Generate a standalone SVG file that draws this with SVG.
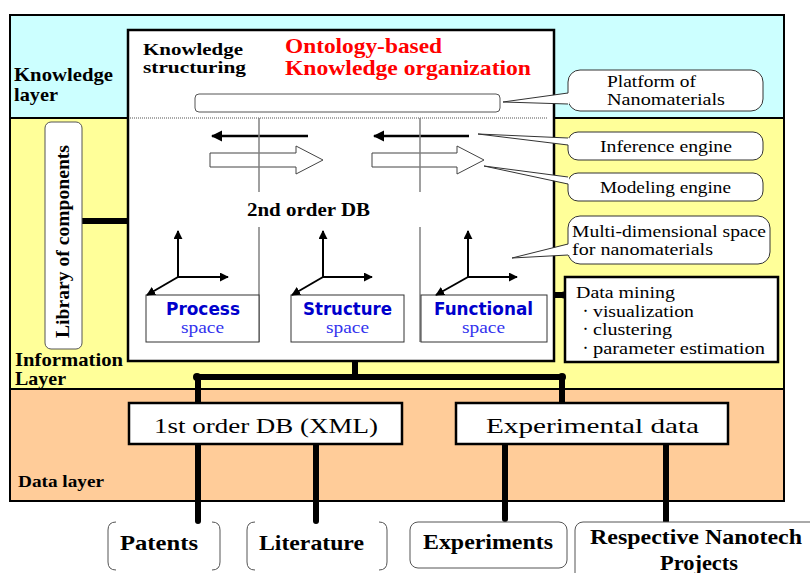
<svg xmlns="http://www.w3.org/2000/svg" width="810" height="573" viewBox="0 0 810 573" font-family="'Liberation Serif', serif">
<style>
text{font-family:"Liberation Serif","Times New Roman",serif;fill:#000}
.b{font-weight:bold}
.lbl{font-size:19px;font-weight:bold}
.lbl2{font-size:16.5px;font-weight:bold}
.call{font-size:16.5px}
.bub{fill:#fff;stroke:#333;stroke-width:1}
.ptr{fill:none;stroke:#333;stroke-width:1}
.ax{stroke:#000;stroke-width:2;fill:none;marker-end:url(#ah)}
.vl{stroke:#808080;stroke-width:1.5}
.sp1{font-family:"DejaVu Sans","Liberation Sans",sans-serif;font-weight:bold;font-size:17px;fill:#0000CC}
.sp2{font-size:17px;fill:#3333EE}
.conn{stroke:#000;stroke-width:6;stroke-linecap:round;fill:none}
.big{font-size:22px}
.bot{font-size:21px;font-weight:bold}
.bul{font-family:"Noto Sans CJK JP",sans-serif;font-size:11px}
</style>
<defs>
<marker id="ah" viewBox="0 0 10 10" refX="9" refY="5" markerWidth="4.5" markerHeight="4.5" orient="auto"><path d="M0,0 L10,5 L0,10 z" fill="#000"/></marker>
</defs>

<g id="layers">
<rect x="10" y="15" width="774" height="103" fill="#CCFFFF"/>
<rect x="10" y="118" width="774" height="271" fill="#FFFF99"/>
<rect x="10" y="389" width="774" height="112" fill="#FFCC99"/>
<line x1="10" y1="118" x2="784" y2="118" stroke="#000" stroke-width="2"/>
<line x1="10" y1="389" x2="784" y2="389" stroke="#000" stroke-width="2"/>
<rect x="10" y="15" width="774" height="486" fill="none" stroke="#000" stroke-width="2"/>
<text class="lbl" x="14" y="81" textLength="99" lengthAdjust="spacingAndGlyphs">Knowledge</text>
<text class="lbl" x="14" y="101" textLength="44" lengthAdjust="spacingAndGlyphs">layer</text>
<text class="lbl" x="15" y="366" textLength="108" lengthAdjust="spacingAndGlyphs">Information</text>
<text class="lbl" x="15" y="385" textLength="51" lengthAdjust="spacingAndGlyphs">Layer</text>
<text class="b" x="18" y="487" font-size="16" textLength="86" lengthAdjust="spacingAndGlyphs">Data layer</text>
</g>

<g id="connectors">
<line class="conn" x1="80" y1="221" x2="128" y2="221" stroke-width="5"/>
<circle cx="80" cy="221" r="3.5"/>
<line class="conn" x1="554" y1="295" x2="564" y2="295" stroke-width="6"/>
<circle cx="564" cy="295" r="3.5"/>
<line class="conn" x1="197" y1="377" x2="562" y2="377" stroke-linecap="butt"/>
<line class="conn" x1="355" y1="361" x2="355" y2="377" stroke-width="5" stroke-linecap="butt"/>
<line class="conn" x1="198" y1="377" x2="198" y2="403" stroke-width="5" stroke-linecap="butt"/>
<line class="conn" x1="562" y1="377" x2="562" y2="403" stroke-width="5" stroke-linecap="butt"/>
<circle cx="197" cy="377" r="4"/>
<circle cx="562" cy="377" r="4"/>
<line class="conn" x1="198" y1="444" x2="198" y2="521"/>
<line class="conn" x1="316" y1="444" x2="316" y2="521"/>
<line class="conn" x1="505" y1="444" x2="505" y2="519"/>
<line class="conn" x1="666" y1="444" x2="666" y2="521"/>
</g>

<g id="knowledge-box">
<rect x="128" y="30" width="426" height="331" fill="#fff" stroke="#000" stroke-width="2.5"/>
<line x1="130" y1="118" x2="548" y2="118" stroke="#555" stroke-width="1.2" stroke-dasharray="1 1"/>
<text class="lbl2" x="143" y="55" textLength="100" lengthAdjust="spacingAndGlyphs">Knowledge</text>
<text class="lbl2" x="143" y="73" textLength="103" lengthAdjust="spacingAndGlyphs">structuring</text>
<text class="b" x="285" y="53" font-size="21" style="fill:#FF0000" textLength="157" lengthAdjust="spacingAndGlyphs">Ontology-based</text>
<text class="b" x="285" y="75" font-size="21" style="fill:#FF0000" textLength="246" lengthAdjust="spacingAndGlyphs">Knowledge organization</text>
<rect x="195" y="94" width="305" height="18" rx="4" fill="#fff" stroke="#555" stroke-width="1"/>
</g>

<g id="engines">
<line x1="308" y1="136" x2="212" y2="136" stroke="#000" stroke-width="2.5" marker-end="url(#ah)"/>
<line x1="469" y1="136" x2="374" y2="136" stroke="#000" stroke-width="2.5" marker-end="url(#ah)"/>
<path d="M210,153 H296 V146 L323,160 L296,174 V167 H210 Z" fill="#fff" stroke="#444" stroke-width="1"/>
<path d="M372,153 H457 V146 L484,160 L457,174 V167 H372 Z" fill="#fff" stroke="#444" stroke-width="1"/>
<line class="vl" x1="259" y1="118" x2="259" y2="192"/>
<line class="vl" x1="259" y1="227" x2="259" y2="342"/>
<line class="vl" x1="420" y1="118" x2="420" y2="192"/>
<line class="vl" x1="420" y1="227" x2="420" y2="342"/>
<text class="b" x="247" y="216" font-size="18" textLength="123" lengthAdjust="spacingAndGlyphs">2nd order DB</text>
</g>

<g id="process-space">
<rect x="146" y="295" width="113" height="47" fill="#fff" stroke="#333" stroke-width="1"/>
<line class="ax" x1="178" y1="277" x2="178" y2="231"/>
<line class="ax" x1="178" y1="277" x2="228" y2="277"/>
<line class="ax" x1="178" y1="277" x2="147" y2="295"/>
<text class="sp1" x="166" y="315" textLength="74" lengthAdjust="spacingAndGlyphs">Process</text>
<text class="sp2" x="181" y="333" textLength="43" lengthAdjust="spacingAndGlyphs">space</text>
</g>
<g id="structure-space">
<rect x="291" y="295" width="113" height="47" fill="#fff" stroke="#333" stroke-width="1"/>
<line class="ax" x1="323" y1="277" x2="323" y2="231"/>
<line class="ax" x1="323" y1="277" x2="372" y2="277"/>
<line class="ax" x1="323" y1="277" x2="292" y2="295"/>
<text class="sp1" x="303" y="315" textLength="89" lengthAdjust="spacingAndGlyphs">Structure</text>
<text class="sp2" x="326" y="333" textLength="43" lengthAdjust="spacingAndGlyphs">space</text>
</g>
<g id="functional-space">
<rect x="421" y="295" width="126" height="47" fill="#fff" stroke="#333" stroke-width="1"/>
<line class="ax" x1="468" y1="277" x2="468" y2="231"/>
<line class="ax" x1="468" y1="277" x2="517" y2="277"/>
<line class="ax" x1="468" y1="277" x2="436" y2="295"/>
<text class="sp1" x="434" y="315" textLength="99" lengthAdjust="spacingAndGlyphs">Functional</text>
<text class="sp2" x="462" y="333" textLength="43" lengthAdjust="spacingAndGlyphs">space</text>
</g>

<g id="library">
<rect x="45" y="122" width="37" height="227" rx="6" fill="#fff" stroke="#555" stroke-width="1"/>
<text class="lbl" transform="translate(69,338) rotate(-90)" textLength="193" lengthAdjust="spacingAndGlyphs">Library of components</text>
</g>

<g id="callout-platform">
<rect class="bub" x="568" y="70" width="195" height="41" rx="12"/>
<polygon points="569,93 503,102 569,104" fill="#fff"/>
<polyline class="ptr" points="568,93 503,102 568,104"/>
<text class="call" x="607" y="87" textLength="89" lengthAdjust="spacingAndGlyphs">Platform of</text>
<text class="call" x="607" y="105" textLength="118" lengthAdjust="spacingAndGlyphs">Nanomaterials</text>
</g>
<g id="callout-inference">
<rect class="bub" x="568" y="132" width="195" height="28" rx="10"/>
<polygon points="569,138 478,134 569,145" fill="#fff"/>
<polyline class="ptr" points="568,138 478,134 568,145"/>
<text class="call" x="600" y="152" textLength="132" lengthAdjust="spacingAndGlyphs">Inference engine</text>
</g>
<g id="callout-modeling">
<rect class="bub" x="568" y="173" width="195" height="28" rx="10"/>
<polygon points="569,177 484,166 569,184" fill="#fff"/>
<polyline class="ptr" points="568,177 484,166 568,184"/>
<text class="call" x="600" y="193" textLength="131" lengthAdjust="spacingAndGlyphs">Modeling engine</text>
</g>
<g id="callout-multi">
<rect class="bub" x="568" y="216" width="202" height="48" rx="12"/>
<polygon points="569,244 512,258 569,255" fill="#fff"/>
<polyline class="ptr" points="568,244 512,258 568,255"/>
<text class="call" x="572" y="237" textLength="194" lengthAdjust="spacingAndGlyphs">Multi-dimensional space</text>
<text class="call" x="572" y="255" textLength="141" lengthAdjust="spacingAndGlyphs">for nanomaterials</text>
</g>

<g id="data-mining">
<rect x="565" y="277" width="213" height="85" fill="#fff" stroke="#000" stroke-width="2.5"/>
<text class="call" x="576" y="298" textLength="99" lengthAdjust="spacingAndGlyphs">Data mining</text>
<text class="bul" x="580" y="315">・</text>
<text class="call" x="593" y="317" textLength="101" lengthAdjust="spacingAndGlyphs">visualization</text>
<text class="bul" x="580" y="333">・</text>
<text class="call" x="593" y="335" textLength="79" lengthAdjust="spacingAndGlyphs">clustering</text>
<text class="bul" x="580" y="352">・</text>
<text class="call" x="593" y="354" textLength="172" lengthAdjust="spacingAndGlyphs">parameter estimation</text>
</g>

<g id="first-order-db">
<rect x="129" y="403" width="273" height="41" fill="#fff" stroke="#000" stroke-width="2.5"/>
<text class="big" x="154" y="433" textLength="224" lengthAdjust="spacingAndGlyphs">1st order DB (XML)</text>
</g>
<g id="experimental-data">
<rect x="456" y="403" width="272" height="41" fill="#fff" stroke="#000" stroke-width="2.5"/>
<text class="big" x="486" y="433" textLength="213" lengthAdjust="spacingAndGlyphs">Experimental data</text>
</g>

<g id="patents">
<path d="M116,522 Q108,522 108,530 V562 Q108,570 116,570" fill="none" stroke="#555" stroke-width="1"/>
<path d="M212,522 Q220,522 220,530 V562 Q220,570 212,570" fill="none" stroke="#555" stroke-width="1"/>
<text class="bot" x="120" y="550" textLength="78" lengthAdjust="spacingAndGlyphs">Patents</text>
</g>
<g id="literature">
<path d="M255,522 Q247,522 247,530 V562 Q247,570 255,570" fill="none" stroke="#555" stroke-width="1"/>
<path d="M379,522 Q387,522 387,530 V562 Q387,570 379,570" fill="none" stroke="#555" stroke-width="1"/>
<text class="bot" x="259" y="550" textLength="105" lengthAdjust="spacingAndGlyphs">Literature</text>
</g>
<g id="experiments">
<rect x="410" y="522" width="157" height="46" rx="8" fill="#fff" stroke="#555" stroke-width="1"/>
<text class="bot" x="423" y="549" textLength="130" lengthAdjust="spacingAndGlyphs">Experiments</text>
</g>
<g id="projects">
<rect x="575" y="522" width="250" height="60" rx="8" fill="#fff" stroke="#555" stroke-width="1"/>
<text class="bot" x="590" y="544" textLength="212" lengthAdjust="spacingAndGlyphs">Respective Nanotech</text>
<text class="bot" x="660" y="570" textLength="78" lengthAdjust="spacingAndGlyphs">Projects</text>
</g>
</svg>
